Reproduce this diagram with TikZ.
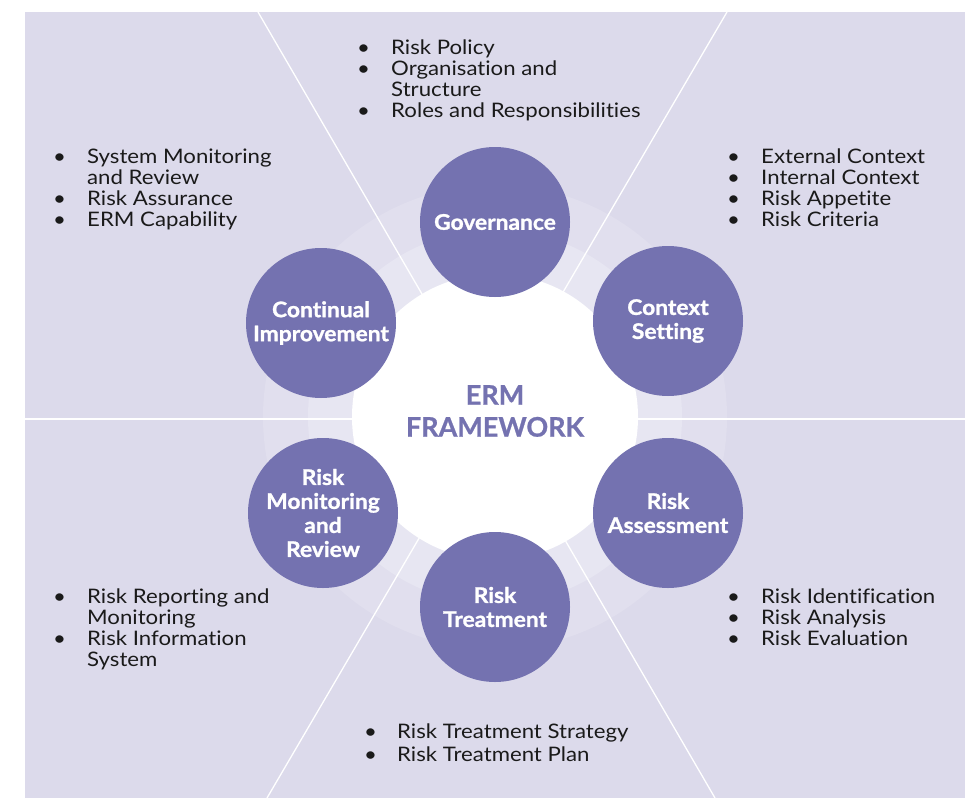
\documentclass[tikz,border=0pt]{standalone}
\usepackage{fontspec}
\setmainfont{Lato}[FakeStretch=1.11,Ligatures=NoCommon]
\newfontfamily\stagefont{Lato}[FakeStretch=1.06,FakeBold=1.2,Ligatures=NoCommon]
\newfontfamily\titlefont{Lato}[FakeBold=0.8]
\definecolor{panel}{HTML}{DCDAEB}
\definecolor{ringA}{HTML}{E1DFEE}
\definecolor{ringB}{HTML}{E7E6F2}
\definecolor{purp}{HTML}{7472B0}
\definecolor{txt}{HTML}{1A1A1A}
\newcommand{\bl}{\textbullet}
\begin{document}
\begin{tikzpicture}[x=1pt,y=-1pt,
  stage/.style={circle,fill=purp,minimum size=150pt,inner sep=0pt,text=white,align=center,font=\stagefont\fontsize{21.5}{24}\selectfont\bfseries},
  blist/.style={anchor=base west,inner sep=0pt,text=txt,font=\fontsize{20}{21}\selectfont},
  divider/.style={draw=white,line width=1.3pt}]
\useasboundingbox (0,0) rectangle (969,798);
\fill[panel] (25,12) rectangle (965,798);
\coordinate (C) at (495,417);
\fill[ringA] (C) circle (232);
\fill[ringB] (C) circle (187);
\coordinate (l1a) at (258,12); \coordinate (l1b) at (715,798);
\coordinate (l2a) at (727,12); \coordinate (l2b) at (267,798);
\coordinate (h1) at (25,419); \coordinate (h2) at (965,419);
\draw[divider] (l1a) -- (l1b);
\draw[divider] (l2a) -- (l2b);
\draw[divider] (h1) -- (h2);
\node[circle,fill=white,minimum size=286pt,inner sep=0pt] (core) at (C) {};
\node[text=purp,font=\titlefont\fontsize{27}{32}\selectfont\bfseries,align=center] (title) at (495,411) {ERM\\FRAMEWORK};
\node[stage] (gov) at (495,222) {Governance};
\node[stage] (ctx) at (668,321) {Context\\Setting};
\node[stage] (ass) at (668,513) {Risk\\Assessment};
\node[stage] (tre) at (495,607) {Risk\\Treatment};
\node[stage] (mon) at (323,513) {Risk\\Monitoring\\and\\Review};
\node[stage] (imp) at (321,323) {Continual\\Improvement};
\node[blist] (tl) at (357,54) {\begin{tabular}[t]{@{}p{34pt}@{}l@{}}\bl & Risk Policy\\ \bl & Organisation and\\ & Structure\\ \bl & Roles and Responsibilities\end{tabular}};
\node[blist] (lu) at (53,163) {\begin{tabular}[t]{@{}p{34pt}@{}l@{}}\bl & System Monitoring\\ & and Review\\ \bl & Risk Assurance\\ \bl & ERM Capability\end{tabular}};
\node[blist] (ru) at (727,163) {\begin{tabular}[t]{@{}p{34pt}@{}l@{}}\bl & External Context\\ \bl & Internal Context\\ \bl & Risk Appetite\\ \bl & Risk Criteria\end{tabular}};
\node[blist] (ld) at (53,603) {\begin{tabular}[t]{@{}p{34pt}@{}l@{}}\bl & Risk Reporting and\\ & Monitoring\\ \bl & Risk Information\\ & System\end{tabular}};
\node[blist] (rd) at (727,603) {\begin{tabular}[t]{@{}p{34pt}@{}l@{}}\bl & Risk Identification\\ \bl & Risk Analysis\\ \bl & Risk Evaluation\end{tabular}};
\node[blist,font=\fontsize{20}{23}\selectfont] (bt) at (364,738) {\begin{tabular}[t]{@{}p{33pt}@{}l@{}}\bl & Risk Treatment Strategy\\ \bl & Risk Treatment Plan\end{tabular}};
\end{tikzpicture}
\end{document}
